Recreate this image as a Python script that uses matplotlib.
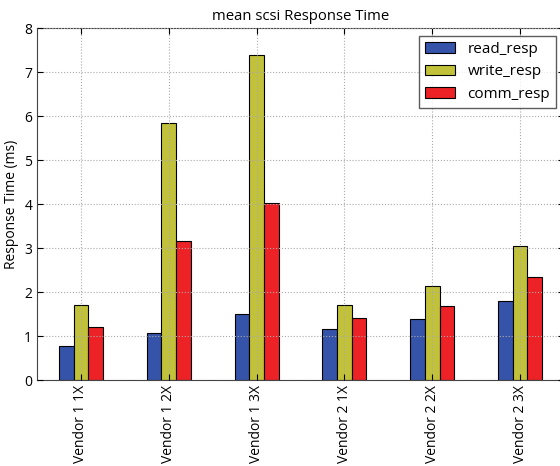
import matplotlib
matplotlib.use('Agg')
import matplotlib.pyplot as plt
import numpy as np

plt.rcParams['font.family'] = ['Open Sans', 'DejaVu Sans']

categories = ['Vendor 1 1X', 'Vendor 1 2X', 'Vendor 1 3X',
              'Vendor 2 1X', 'Vendor 2 2X', 'Vendor 2 3X']
read_resp = [0.78, 1.07, 1.50, 1.16, 1.38, 1.79]
write_resp = [1.71, 5.85, 7.38, 1.71, 2.13, 3.04]
comm_resp = [1.21, 3.16, 4.02, 1.41, 1.69, 2.33]

series = [('read_resp', read_resp, '#3553a8'),
          ('write_resp', write_resp, '#c2c23a'),
          ('comm_resp', comm_resp, '#ec2226')]

fig = plt.figure(figsize=(5.6, 4.66), dpi=100)
ax = fig.add_axes([37/560, 1-380/466, (564-37)/560, (380-28)/466])

x = np.arange(len(categories))
w = 0.5 / 3
for i, (name, vals, col) in enumerate(series):
    ax.bar(x + (i - 1) * w, vals, w, color=col, edgecolor='black',
           linewidth=0.8, label=name)

ax.set_xlim(-0.5, len(categories) - 0.5)
ax.set_ylim(0, 8)
ax.set_xticks(x)
ax.set_xticklabels(categories, rotation=90, fontsize=10)
ax.tick_params(axis='y', labelsize=10)
ax.tick_params(direction='in', top=True, right=True, length=4)
ax.set_axisbelow(False)
ax.grid(True, linestyle=':', color='#aaaaaa', linewidth=0.8)
for s in ax.spines.values():
    s.set_color('#444444')

ax.set_title('mean scsi Response Time', fontsize=10.7)
ax.set_ylabel('Response Time (ms)', fontsize=10)

leg = ax.legend(loc='upper right', fontsize=11, fancybox=False,
                handlelength=2.0, borderaxespad=0.5)
leg.get_frame().set_edgecolor('#333333')

fig.savefig('out.png', dpi=100)
